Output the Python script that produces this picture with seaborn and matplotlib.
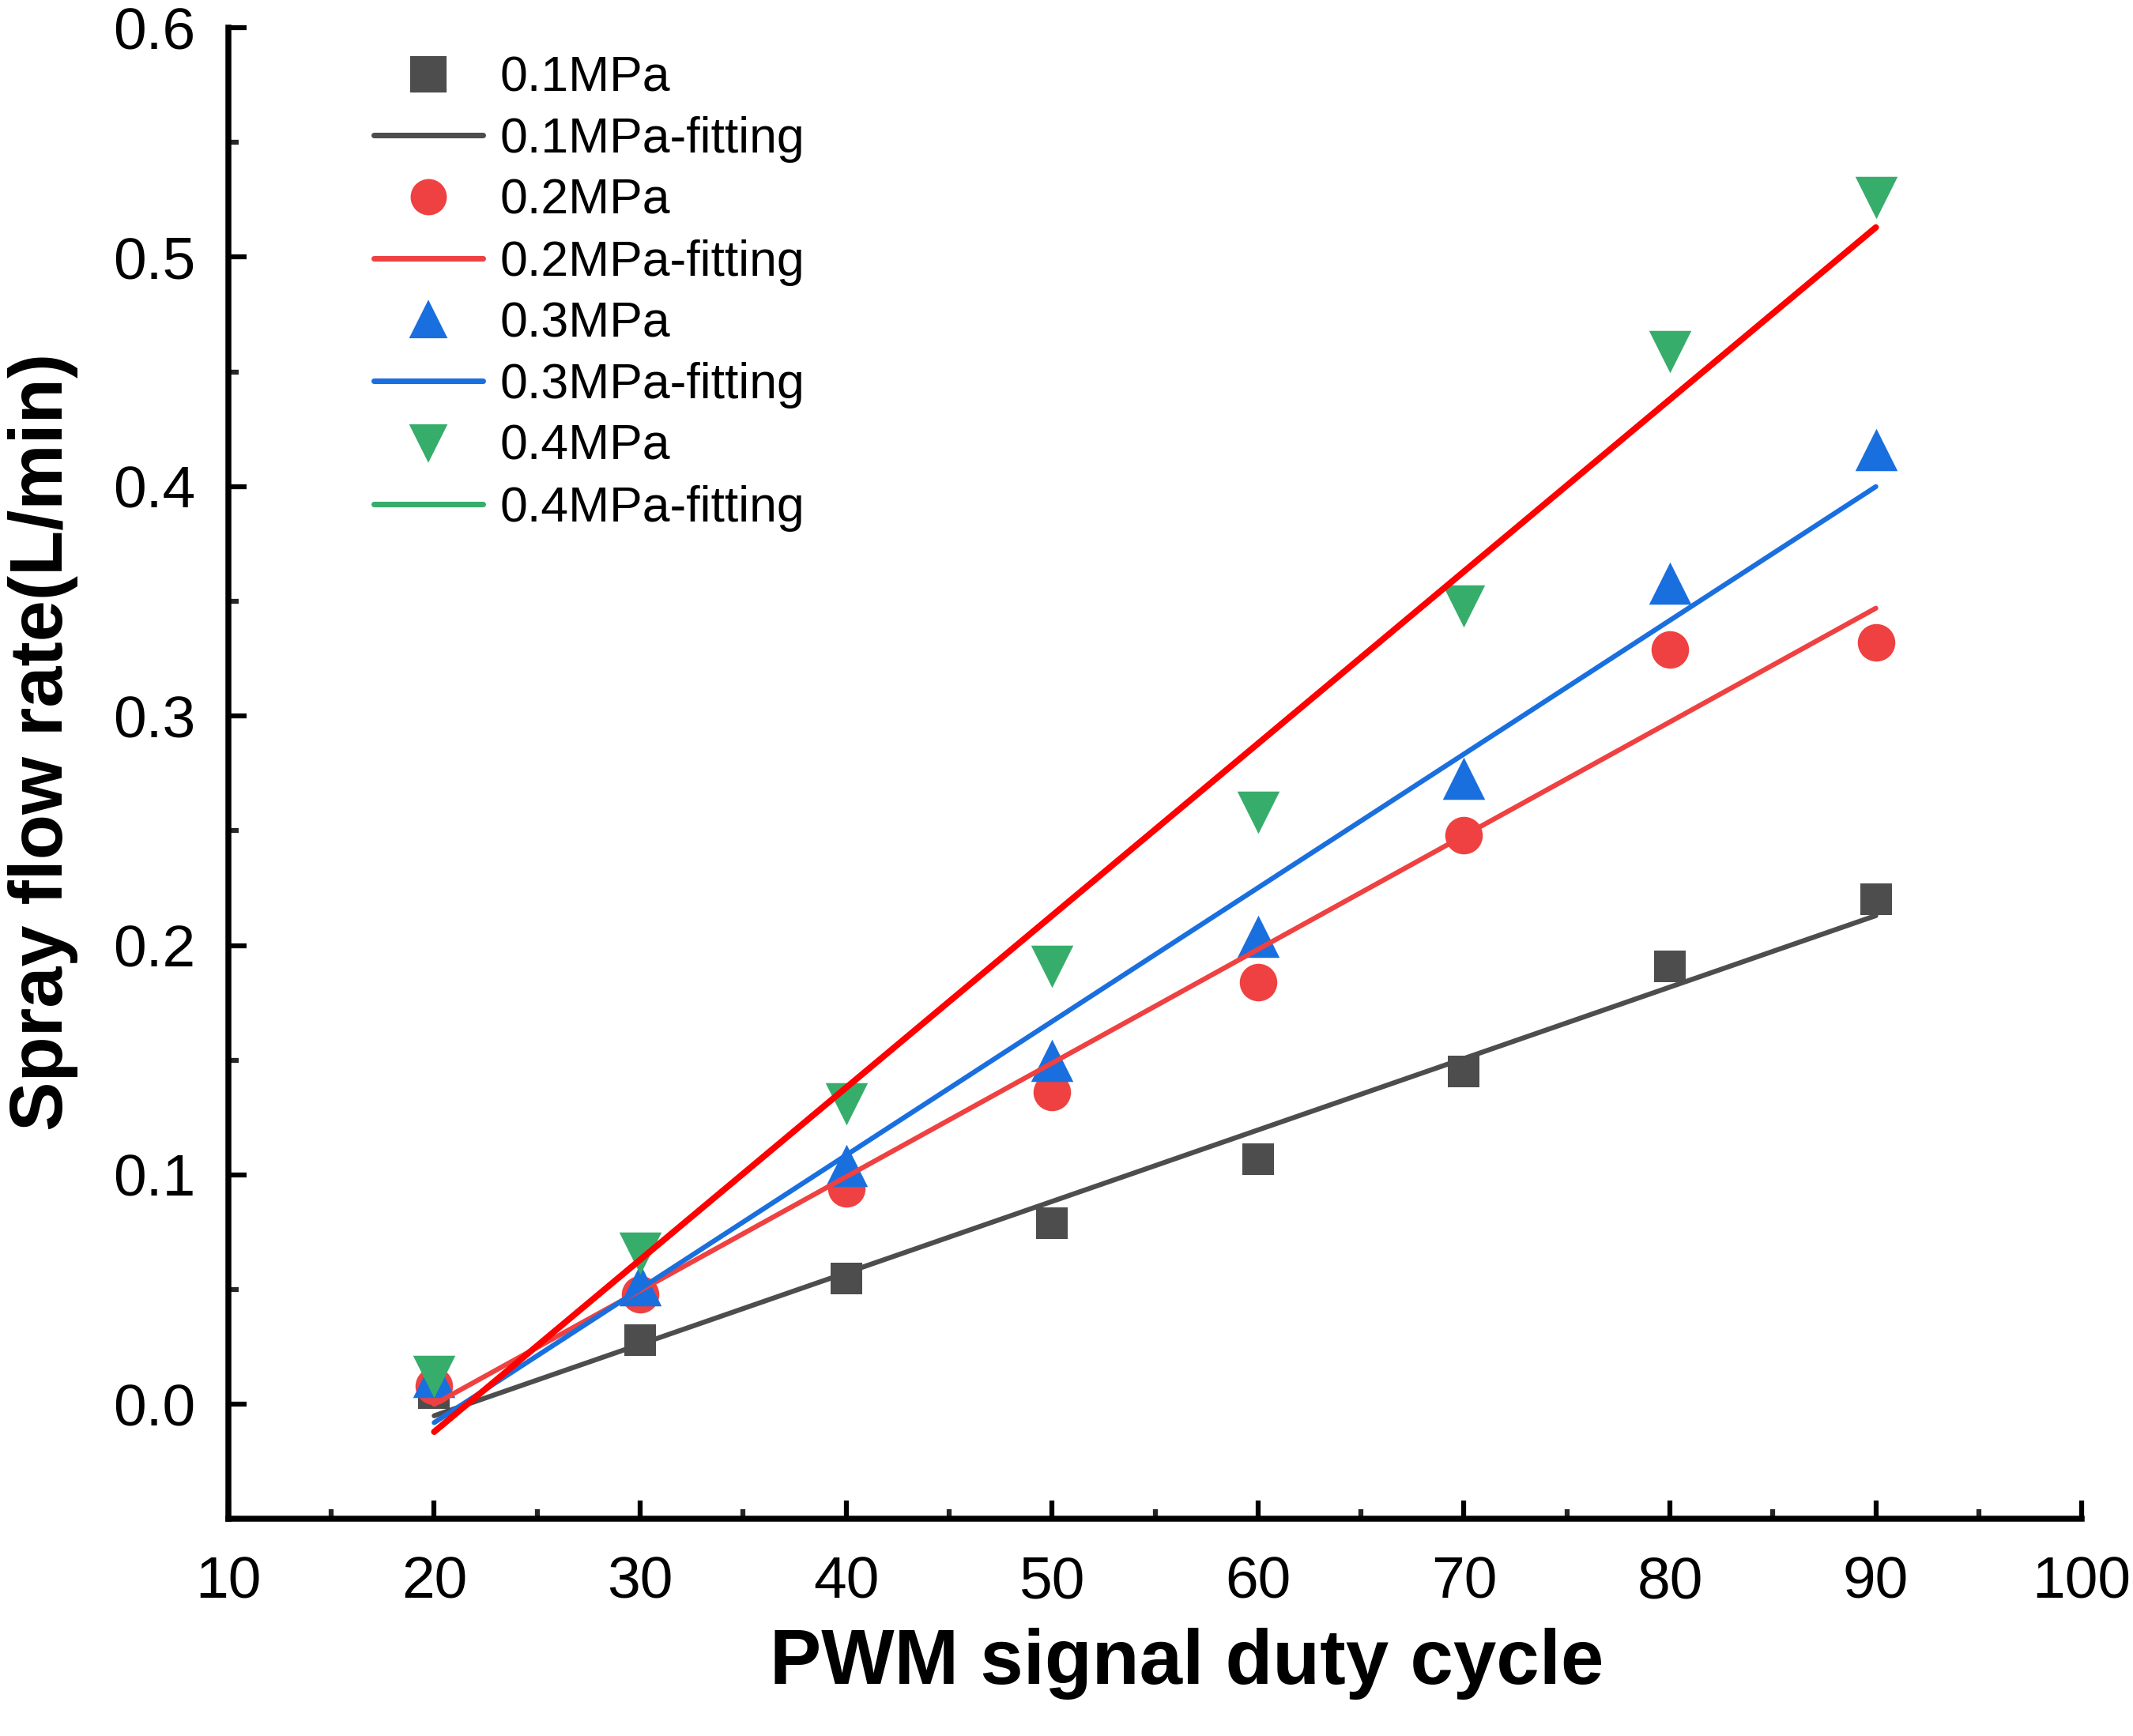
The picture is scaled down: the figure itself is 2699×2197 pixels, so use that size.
import matplotlib
matplotlib.use("Agg")
import matplotlib.pyplot as plt
import matplotlib.ticker as mticker
from matplotlib.lines import Line2D
import pandas as pd
import seaborn as sns

# data
duty = [20, 30, 40, 50, 60, 70, 80, 90]
flow_01 = [0.005, 0.028, 0.055, 0.079, 0.107, 0.145, 0.191, 0.220]
flow_02 = [0.008, 0.048, 0.094, 0.136, 0.184, 0.248, 0.329, 0.332]
flow_03 = [0.012, 0.052, 0.104, 0.150, 0.204, 0.273, 0.358, 0.416]
flow_04 = [0.012, 0.066, 0.131, 0.191, 0.258, 0.348, 0.459, 0.526]

# fitting lines, end points at duty 20 and 90
fit_x = [20, 90]
fit_01 = [-0.005, 0.213]
fit_02 = [0.000, 0.347]
fit_03 = [-0.008, 0.400]
fit_04 = [-0.012, 0.513]

labels = ["0.1MPa", "0.2MPa", "0.3MPa", "0.4MPa"]
markers = ["s", "o", "^", "v"]
colors = ["#4d4d4d", "#ef4141", "#1a6fdf", "#37ad6b"]
# the 0.4MPa fit is drawn in pure red in the figure body
line_colors = ["#4d4d4d", "#ef4141", "#1a6fdf", "#ff0000"]

pts = pd.concat([pd.DataFrame({"duty": duty, "flow": v, "p": l})
                 for v, l in zip([flow_01, flow_02, flow_03, flow_04], labels)])
fits = pd.concat([pd.DataFrame({"duty": fit_x, "flow": v, "p": l})
                  for v, l in zip([fit_01, fit_02, fit_03, fit_04], labels)])

sns.set_style("ticks")
plt.rcParams['font.family'] = ['Liberation Sans', 'DejaVu Sans']
plt.rcParams['text.color'] = 'black'
plt.rcParams['axes.labelcolor'] = 'black'

fig = plt.figure(figsize=(2699 / 300, 2197 / 300), dpi=300)
ax = fig.add_axes([0.107, 0.125, 0.869, 0.859])

msizes = [95, 130, 165, 165]
for i, l in enumerate(labels):
    d = pts[pts.p == l]
    sns.scatterplot(data=d, x="duty", y="flow", ax=ax, marker=markers[i],
                    color=colors[i], s=msizes[i], linewidth=0, zorder=3,
                    legend=False)
for i, l in enumerate(labels):
    d = fits[fits.p == l]
    sns.lineplot(data=d, x="duty", y="flow", ax=ax, color=line_colors[i],
                 linewidth=1.9 if i == 3 else 1.5, zorder=4,
                 legend=False)

ax.set_xlim(10, 100)
ax.set_ylim(-0.05, 0.6)
ax.xaxis.set_major_locator(mticker.MultipleLocator(10))
ax.xaxis.set_minor_locator(mticker.MultipleLocator(5))
ax.yaxis.set_major_locator(mticker.MultipleLocator(0.1))
ax.yaxis.set_minor_locator(mticker.MultipleLocator(0.05))
ax.yaxis.set_major_formatter(mticker.FormatStrFormatter('%.1f'))

for s in ['top', 'right']:
    ax.spines[s].set_visible(False)
for s in ['left', 'bottom']:
    ax.spines[s].set_linewidth(1.8)
    ax.spines[s].set_color('black')

ax.tick_params(which='major', direction='in', length=5.5, width=1.5,
               labelsize=18, colors='black')
ax.tick_params(axis='x', which='major', pad=11)
ax.tick_params(axis='y', which='major', pad=10)
ax.tick_params(which='minor', direction='in', length=3, width=1.5)

ax.set_xlabel('PWM signal duty cycle', fontsize=23.5, fontweight='bold', labelpad=4)
ax.xaxis.set_label_coords(0.517, -0.073)
ax.set_ylabel('Spray flow rate(L/min)', fontsize=22.5, fontweight='bold')
ax.yaxis.set_label_coords(-0.081, 0.521)

handles = []
for i, l in enumerate(labels):
    handles.append(Line2D([], [], linestyle='none', marker=markers[i],
                          color=colors[i], markersize=10, label=l))
    handles.append(Line2D([], [], color=colors[i], linewidth=1.7,
                          label=l + '-fitting'))
ax.legend(handles=handles, loc='upper left', bbox_to_anchor=(0.06, 1.005),
          frameon=False, fontsize=15, handlelength=2.2, handletextpad=0.35,
          labelspacing=0.3, borderaxespad=0.3)

fig.savefig('out.png', dpi=300)
